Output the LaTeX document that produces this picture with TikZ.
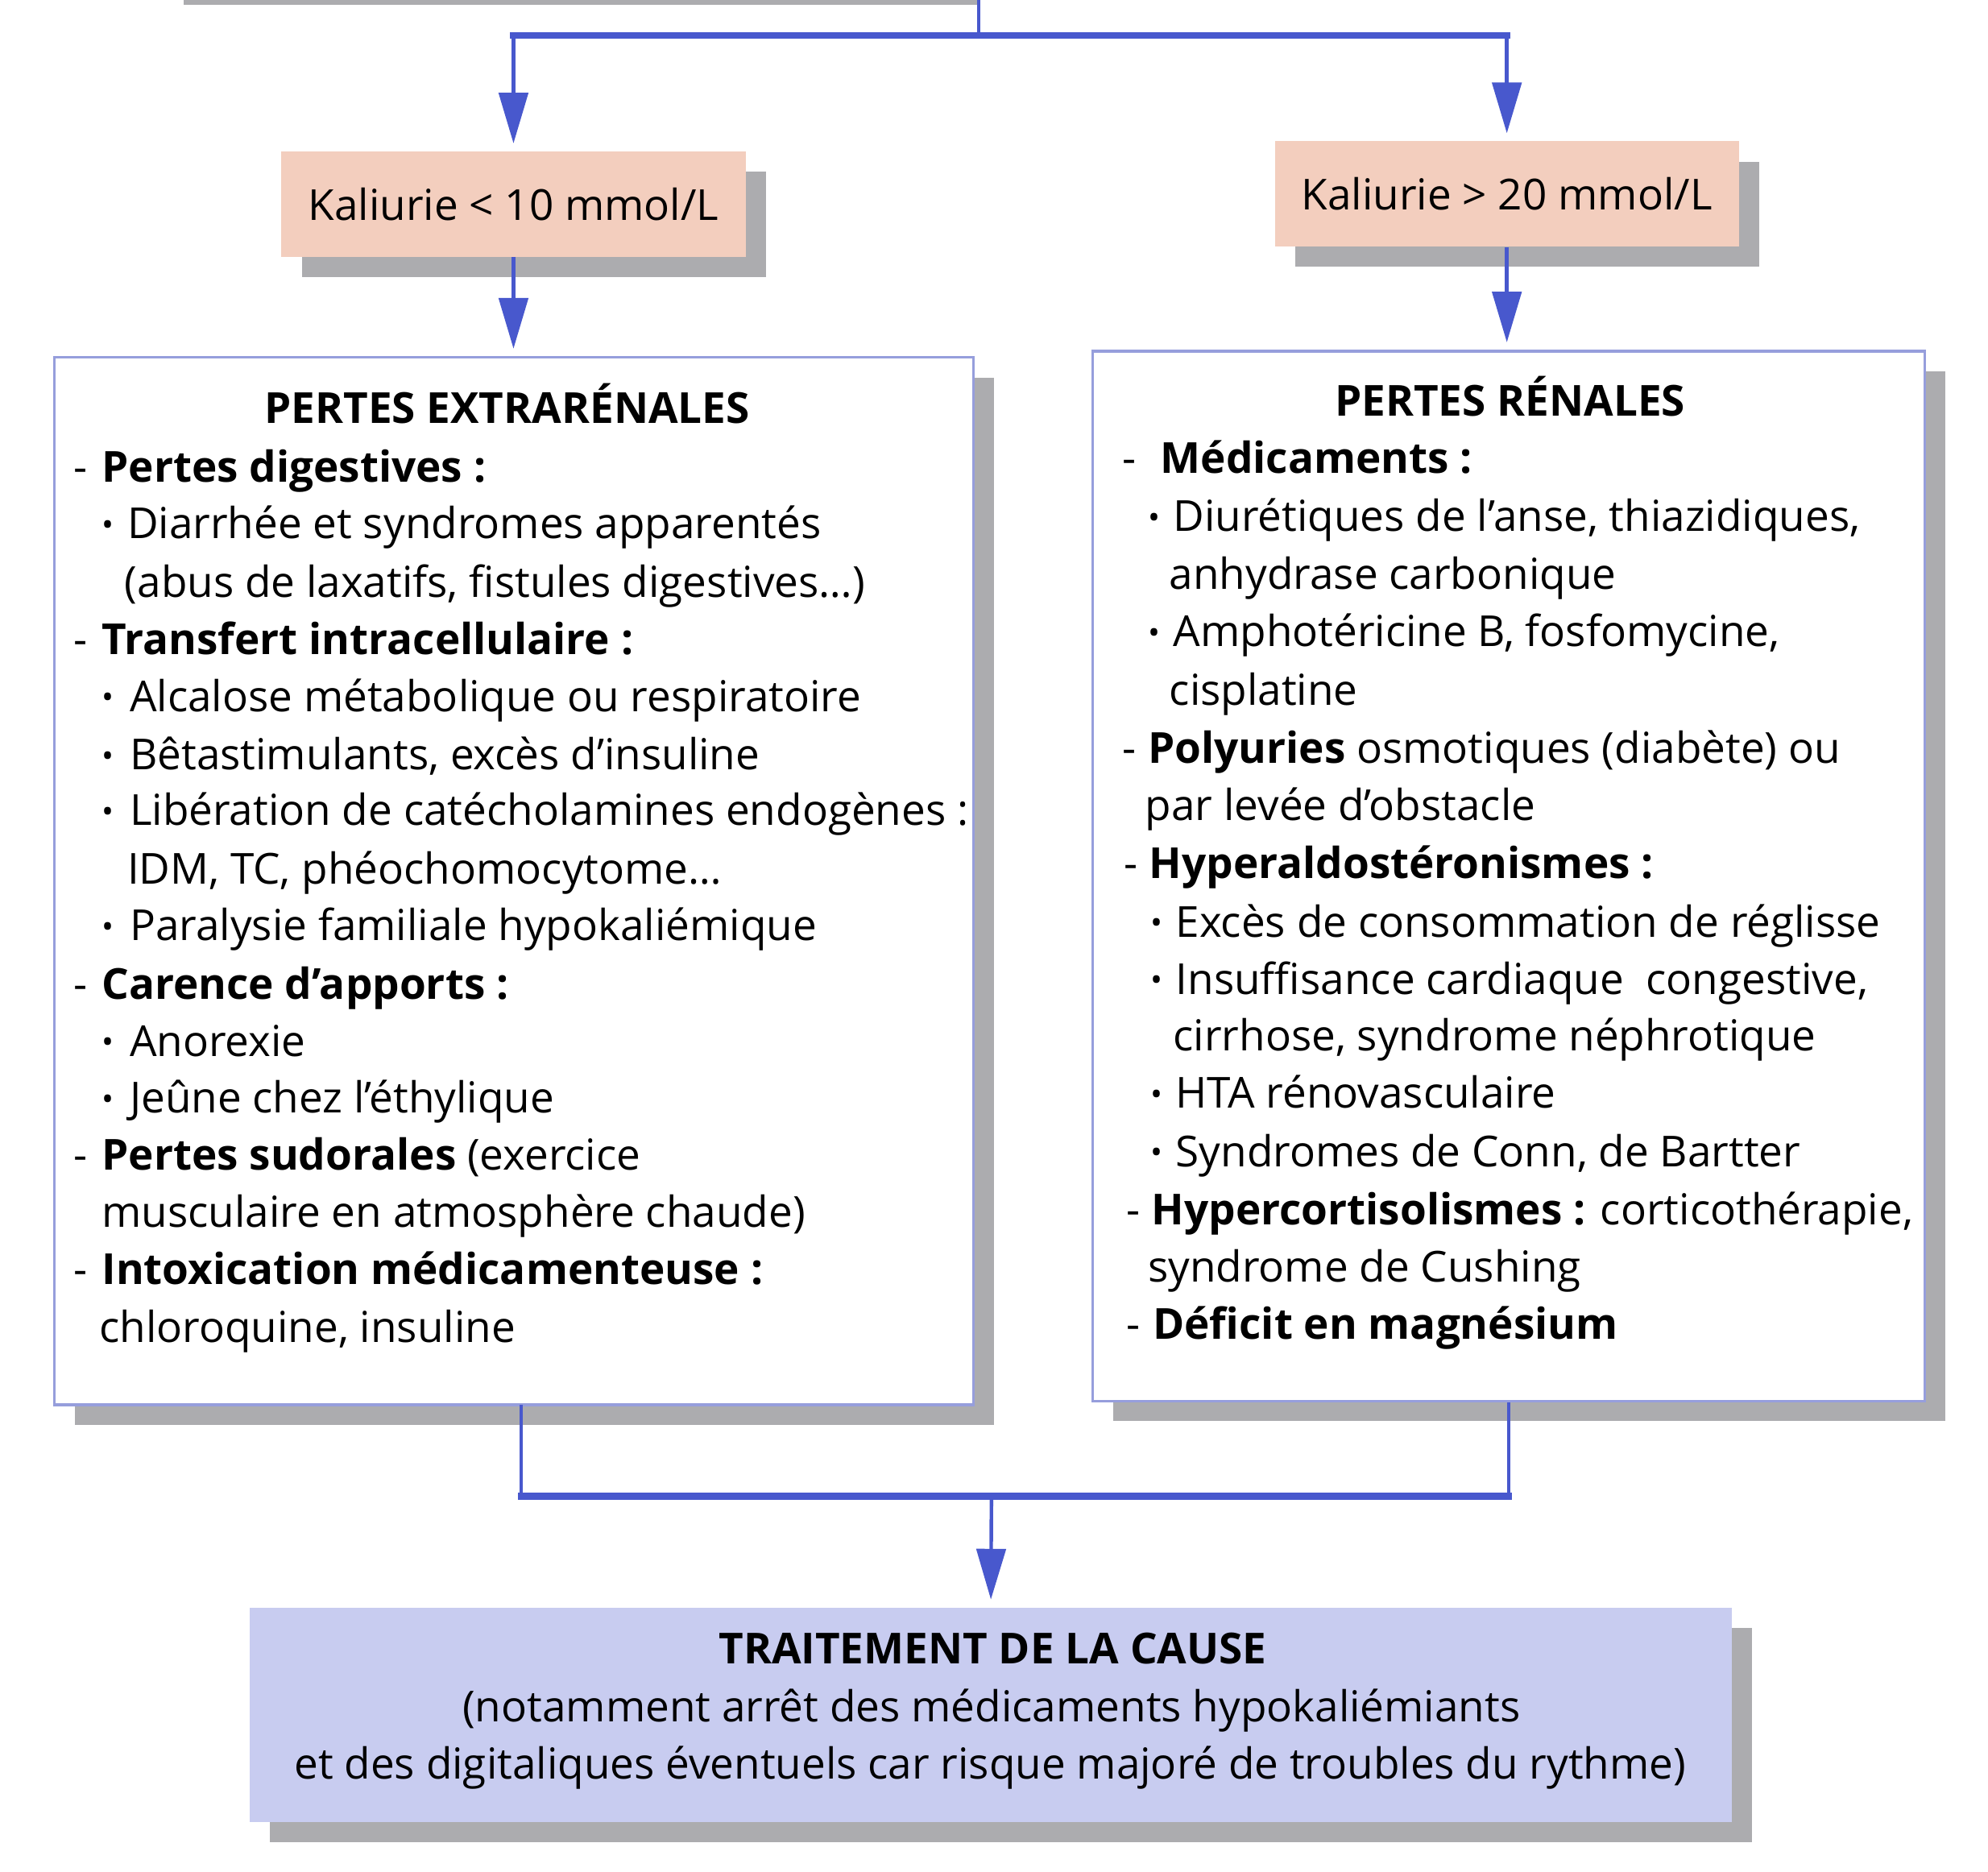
\documentclass[tikz,border=0pt]{standalone}
\usepackage{fontspec}
\setmainfont{Open Sans}
\usetikzlibrary{arrows.meta,shadows}
\definecolor{conn}{RGB}{72,88,205}
\definecolor{kfill}{RGB}{243,206,190}
\definecolor{tfill}{RGB}{200,204,240}
\definecolor{shadowgray}{RGB}{172,172,175}
\definecolor{boxborder}{RGB}{150,158,220}
\newcommand{\fs}{\fontsize{16.85}{20}\selectfont}
\newcommand{\dsh}[1]{\makebox[#1][l]{-}}
\newcommand{\bul}[1]{\makebox[#1][l]{\raisebox{0.06em}{\scalebox{0.75}{•}}}}
\tikzset{
  shad/.style={drop shadow={shadow xshift=8pt, shadow yshift=-8pt, fill=shadowgray, opacity=1}},
  kbox/.style={fill=kfill, minimum width=183pt, minimum height=41.5pt, inner sep=0pt, font=\fs, shad},
  bigbox/.style={fill=white, draw=boxborder, line width=1pt, inner sep=0pt, shad},
  tbox/.style={fill=tfill, minimum width=584.5pt, minimum height=84.5pt, inner sep=0pt, shad},
  txt/.style={anchor=base west, inner sep=0pt, font=\fs},
  ttl/.style={anchor=base, inner sep=0pt, font=\fs\bfseries},
  vline/.style={draw=conn, line width=1.4pt},
  hline/.style={draw=conn, line width=2.8pt},
  arr/.style={draw=conn, line width=1.4pt, -{Triangle[length=20pt,width=11.5pt]}, shorten >=3pt}
}
\begin{document}
\begin{tikzpicture}[x=0.5pt,y=-0.5pt]
\useasboundingbox (0,0) rectangle (1568,1476);
\fill[shadowgray] (145,0) rectangle (772,4);

% boxes
\node[kbox] (k1) at (405,161) {Kaliurie < 10 mmol/L};
\node[kbox] (k2) at (1188.5,153) {Kaliurie > 20 mmol/L};
\node[bigbox, minimum width=362.5pt, minimum height=413pt] (b1) at (405.5,695) {};
\node[bigbox, minimum width=328pt, minimum height=414pt] (b2) at (1190,691) {};
\node[tbox] (b3) at (781.5,1352.5) {};

% connectors
\coordinate (top) at (772,0);
\coordinate (jt) at (772,28);
\coordinate (jb) at (782,1180);
\coordinate (b1s) at (411,1108);
\draw[vline] (top) -- (jt);
\draw[hline, line cap=rect] (k1.north |- jt) -- (k2.north |- jt);
\draw[arr] (k1.north |- jt) -- (k1.north);
\draw[arr] (k2.north |- jt) -- (k2.north);
\draw[arr] (k1.south) -- (k1.south |- b1.north);
\draw[arr] (k2.south) -- (k2.south |- b2.north);
\draw[vline] (b1s) -- (b1s |- jb);
\draw[vline] (b2.south) -- (b2.south |- jb);
\draw[hline, line cap=rect] (b1s |- jb) -- (b2.south |- jb);
\draw[arr] (jb) -- (b3.north);

% left box text
\node[ttl] (L0) at (400,334) {PERTES EXTRARÉNALES};
\node[txt] (L1) at (58,380) {\dsh{11pt}\textbf{Pertes digestives :}};
\node[txt] (L2) at (80,425) {\bul{10pt}Diarrhée et syndromes apparentés};
\node[txt] (L3) at (98,471) {(abus de laxatifs, fistules digestives…)};
\node[txt] (L4) at (58,516) {\dsh{11pt}\textbf{Transfert intracellulaire :}};
\node[txt] (L5) at (80,561) {\bul{11pt}Alcalose métabolique ou respiratoire};
\node[txt] (L6) at (80,607) {\bul{11pt}Bêtastimulants, excès d’insuline};
\node[txt] (L7) at (80,651) {\bul{11pt}Libération de catécholamines endogènes :};
\node[txt] (L8) at (100,697) {IDM, TC, phéochomocytome…};
\node[txt] (L9) at (80,742) {\bul{11pt}Paralysie familiale hypokaliémique};
\node[txt] (L10) at (58,788) {\dsh{11pt}\textbf{Carence d’apports :}};
\node[txt] (L11) at (80,833) {\bul{11pt}Anorexie};
\node[txt] (L12) at (80,878) {\bul{11pt}Jeûne chez l’éthylique};
\node[txt] (L13) at (58,923) {\dsh{11pt}\textbf{Pertes sudorales} (exercice};
\node[txt] (L14) at (80,968) {musculaire en atmosphère chaude)};
\node[txt] (L15) at (58,1013) {\dsh{11pt}\textbf{Intoxication médicamenteuse :}};
\node[txt] (L16) at (78,1059) {chloroquine, insuline};

% right box text
\node[ttl] (R0) at (1191,328) {PERTES RÉNALES};
\node[txt] (R1) at (885,373) {\dsh{15pt}\textbf{Médicaments :}};
\node[txt] (R2) at (905,419) {\bul{10pt}Diurétiques de l’anse, thiazidiques,};
\node[txt] (R3) at (922,465) {anhydrase carbonique};
\node[txt] (R4) at (905,510) {\bul{10pt}Amphotéricine B, fosfomycine,};
\node[txt] (R5) at (922,556) {cisplatine};
\node[txt] (R6) at (885,602) {\dsh{10pt}\textbf{Polyuries} osmotiques (diabète) ou};
\node[txt] (R7) at (903,647) {par levée d’obstacle};
\node[txt] (R8) at (886,693) {\dsh{10pt}\textbf{Hyperaldostéronismes :}};
\node[txt] (R9) at (907,739) {\bul{10pt}Excès de consommation de réglisse};
\node[txt] (R10) at (907,784) {\bul{10pt}Insuffisance cardiaque\ \ congestive,};
\node[txt] (R11) at (925,829) {cirrhose, syndrome néphrotique};
\node[txt] (R12) at (907,874) {\bul{10pt}HTA rénovasculaire};
\node[txt] (R13) at (907,920) {\bul{10pt}Syndromes de Conn, de Bartter};
\node[txt] (R14) at (888,966) {\dsh{10pt}\textbf{Hypercortisolismes :} corticothérapie,};
\node[txt] (R15) at (905,1011) {syndrome de Cushing};
\node[txt] (R16) at (888,1056) {\dsh{10.5pt}\textbf{Déficit en magnésium}};

% bottom box text
\node[ttl] (T0) at (783,1312) {TRAITEMENT DE LA CAUSE};
\node[anchor=base, inner sep=0pt, font=\fs] (T1) at (782,1358) {(notamment arrêt des médicaments hypokaliémiants};
\node[anchor=base, inner sep=0pt, font=\fs] (T2) at (781,1403) {et des digitaliques éventuels car risque majoré de troubles du rythme)};
\end{tikzpicture}
\end{document}
